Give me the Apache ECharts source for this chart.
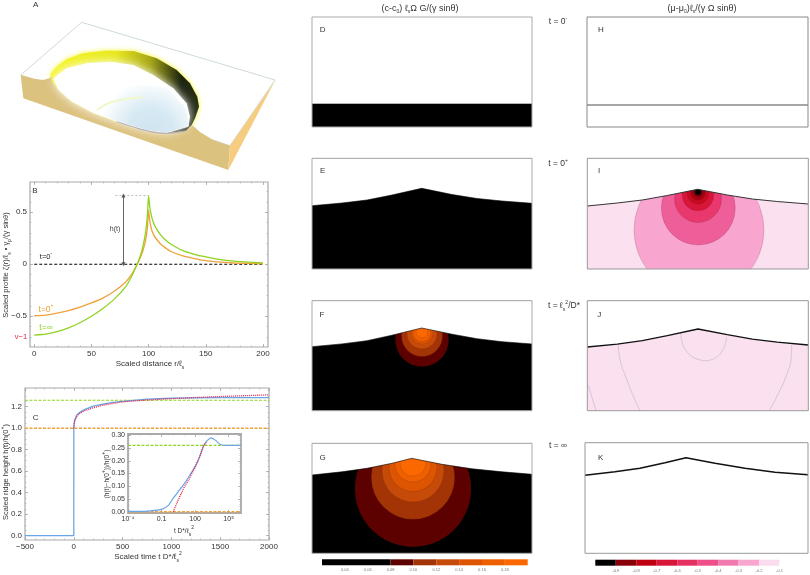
<!DOCTYPE html>
<html>
<head>
<meta charset="utf-8">
<style>html,body{margin:0;padding:0;background:#fff}#chart{width:810px;height:575px}</style>
<script src="https://cdn.jsdelivr.net/npm/echarts@6/dist/echarts.min.js"></script>
</head>
<body>
<div id="chart"></div>
<script>
// panel B: scaled profile
const distance = [0,10,20,30,40,50,60,70,80,85,90,93,95,97,98,99,100,101,102,103,105,107,110,115,120,130,140,150,160,175,200];
const profileEarly = [-.495,-.488,-.47,-.445,-.412,-.372,-.325,-.26,-.17,-.1,0,.07,.13,.21,.27,.36,.52,.42,.36,.32,.27,.24,.2,.155,.12,.08,.055,.035,.022,.012,.003];
const profileLate = [-.68,-.672,-.648,-.612,-.562,-.5,-.425,-.335,-.215,-.12,0,.09,.17,.28,.36,.48,.66,.55,.49,.44,.38,.34,.29,.23,.19,.13,.095,.07,.05,.03,.012];
const profileFlat = [[0,0],[200,0]];
const ridgeGuide = [[71,.66],[100,.66]];
const ridgeArrow = [[78,.66],[78,0]];

// panel C: ridge height
const time = [-500,-0.01,0,5,15,30,50,100,200,300,400,500,750,1000,1250,1500,2000];
const heightNum = [0,0,1,1.06,1.09,1.12,1.14,1.17,1.205,1.225,1.24,1.25,1.27,1.28,1.283,1.285,1.285];
const timeFit = [0,5,15,30,50,100,200,300,500,750,1000,1500,2000];
const heightFit = [1,1.05,1.08,1.11,1.13,1.16,1.19,1.215,1.245,1.262,1.275,1.295,1.31];
const levelEarly = 1.0;
const levelLate = 1.26;

// inset of C
const insetTime = [1e-4,1e-3,1e-2,.1,.4,1.1,3,9,30,100,250,560,1100,2570,6300,17800,70000,1300000];
const insetNum = [.001,.001,.003,.009,.025,.053,.078,.105,.14,.178,.215,.258,.277,.29,.281,.264,.26,.26];
const insetFitTime = [1.1,3,9,30,100,250,560,1100];
const insetFitNum = [0,.045,.09,.13,.175,.215,.258,.275];
const insetLate = .26;
const insetEarly = 0;

// surfaces of the contour panels: [x, height]
const surfaceE = [[0,63.3],[30,66],[55,69],[80,74],[109.7,80.7],[140,74.5],[165,70.5],[190,68],[220,65.7]];
const surfaceF = [[0,64],[30,66.8],[55,70],[80,75.5],[109.7,82.7],[140,76.5],[165,72],[190,69],[220,66.7]];
const surfaceG = [[0,78.3],[30,81.5],[55,85],[80,90],[99.7,95],[130,89],[160,84.5],[190,81.5],[220,79]];
const surfaceI = [[0,63],[30,66],[55,69],[80,73.5],[110.4,79.7],[140,74],[165,70],[190,67.5],[221,65]];
const surfaceJ = [[0,63.7],[30,66.5],[55,70],[80,75],[110.7,81.7],[140,76],[165,71.5],[190,68.5],[221,65.7]];
const surfaceK = [[0,78],[30,81.5],[55,85],[80,90.5],[101,95.6],[130,90],[160,85],[190,81],[223,78.6]];
const surfaceD = [[0,23],[220,23]];
const surfaceH = [[0,22],[221,22]];

// contour rings: [cx, cy, r]
const ringsF = [[110,70.7,26.5],[110,74.7,20.5],[110,76.7,15],[110,77.7,11],[110,78,9],[110,78.7,6]];
const ringsG = [[101,64.6,58],[101,75.7,41.7],[101,82.3,31],[101,85.8,24],[101,89.3,18],[101,90,13]];
const ringsI = [[111.7,39,65],[111,61,37],[110.7,70,23.5],[110.7,74,15.8],[110.7,76,11],[110.7,76.5,7.5],[110.7,77,4.5],[110.7,77.3,3]];
const contoursJ = [
    [[93.4,78],[95,68],[99,60],[105,54],[112,51],[118,50],[124,51],[130,54],[135,60],[138,67],[139.4,74]],
    [[31,65.7],[33,50],[38,35],[45,17],[52.7,0]],
    [[204.4,65.7],[204,54],[199,35],[191,17],[182,0]],
    [[1,25.7],[8.7,0]]
];

// colour bars
const barTicksLeft = [.04,.06,.08,.1,.12,.14,.16,.18];
const barEdgesLeft = [.02,.08,.1,.12,.14,.16,.18,.2];
const barTicksRight = [-.9,-.8,-.7,-.6,-.5,-.4,-.3,-.2,-.1];
const barEdgesRight = [-1,-.9,-.8,-.7,-.6,-.5,-.4,-.3,-.2,-.1,0];

const colorsHot = ['#000000','#5c0000','#a33406','#c64a08','#dd5500','#ee5f00','#fb6800'];
const colorsPink = ['#000000','#8a0008','#bf0012','#d9163a','#e6305f','#ee4f88','#f07ab0','#f8a6d0','#fbdcee','#ffffff'];
const ringColorsF = colorsHot.slice(1);
const ringColorsG = colorsHot.slice(1);
const ringColorsI = ['#f8a6d0','#ee5f9a','#e8386e','#d9163a','#c60a20','#a80010','#6a0008','#000000'];

// panel A outline, picture pixels
const boxTop = [[20.7,75],[81.7,22.3],[275,80],[230,145.7]];
const boxFront = [[20.7,75],[33,78.5],[43,80],[50,78],[52,74],[53,83],[67,98],[93,113],[133,128],[167,133.5],[187,130],[192,125],[200,132],[213,140],[230,145.7],[228.3,170],[23.3,98.3]];
const boxSide = [[230,145.7],[275,80.7],[228.3,170]];
const dropOuter = [[50.7,74],[56.7,66.7],[66.7,59.3],[83.3,53.3],[106.7,50.7],[133.3,51],[156.7,58.3],[176.7,70],[190,83.3],[197.3,96.7],[199,106.7],[195,118.3],[191.7,125],[186,130.7],[166.7,133.3],[146.7,130.7],[116.7,121.7],[93.3,113.3],[71.7,101.7],[58.3,90],[51.7,80]];
const dropInner = [[53.3,78.3],[66.7,68.3],[86.7,63.3],[110,61.7],[133.3,65],[153.3,75],[173.3,88.3],[186.7,103.3],[190,116.7],[188.3,126.7],[166.7,133],[146.7,130.5],[116.7,121.5],[93.3,113],[71.7,101.5],[58.3,89.8]];
const dropBlue = [[93.3,112.5],[110,88],[143,85],[167,88],[186,108],[189,126],[166.7,132.5],[146.7,130],[116.7,121]];
const dropStreak = [[96.7,110],[113,101.7],[143,97.3]];
const dropRim = [[116.7,121.7],[146.7,130.7],[166.7,133.3],[186,130.7]];

const FONT = 'Liberation Sans, Arial, sans-serif';
const richText = {
    s: {fontSize: 5, fontFamily: FONT, verticalAlign: 'bottom', lineHeight: 12},
    u: {fontSize: 5, fontFamily: FONT, verticalAlign: 'top', lineHeight: 12}
};

let grids = [], xAxes = [], yAxes = [], series = [], texts = [];

function txt(x, y, text, size, color, rotate){
    texts.push({
        type: 'text', x: x, y: y, z: 50, silent: true,
        rotation: rotate ? Math.PI / 2 : 0,
        style: {
            text: text, fill: color || '#333', fontSize: size || 8, fontFamily: FONT,
            align: 'center', verticalAlign: 'middle', rich: richText
        }
    });
}

function range(from, to, step){
    let out = [];
    for (let i = 0; from + i * step <= to + step / 1000; i++){
        out.push(+(from + i * step).toFixed(6));
    }
    return out;
}

// framed axis: labels and major ticks on one side, minor ticks and mirror on the rest
function plotAxes(list, gridIndex, sides, o){
    let first = list.length;
    [sides[0], sides[1]].forEach(function(side, i){
        list.push({
            gridIndex: gridIndex, type: 'value', position: side, min: o.min, max: o.max,
            axisLine: {show: false, onZero: false}, splitLine: {show: false},
            axisTick: {show: true, inside: true, length: 3, customValues: o.major, lineStyle: {color: '#999', width: .7}},
            axisLabel: {
                show: i === 0, customValues: o.major, margin: o.margin || 3, fontSize: o.size || 8,
                fontFamily: FONT, color: '#333', formatter: o.fmt, hideOverlap: false
            }
        });
        list.push({
            gridIndex: gridIndex, type: 'value', position: side, min: o.min, max: o.max,
            axisLine: {show: false, onZero: false}, splitLine: {show: false}, axisLabel: {show: false},
            axisTick: {show: true, inside: true, length: 1.5, customValues: o.minor, lineStyle: {color: '#aaa', width: .6}}
        });
    });
    return first;
}

function plotGrid(rect, borderWidth, xOpts, yOpts){
    let gi = grids.length;
    grids.push({
        show: true, left: rect[0], top: rect[1], width: rect[2], height: rect[3],
        containLabel: false, backgroundColor: '#fff', borderColor: '#aaa', borderWidth: borderWidth
    });
    return {x: plotAxes(xAxes, gi, ['bottom','top'], xOpts), y: plotAxes(yAxes, gi, ['left','right'], yOpts)};
}

function line(ax, data, color, width, dash, extra){
    series.push(Object.assign({
        type: 'line', xAxisIndex: ax.x, yAxisIndex: ax.y, data: data, showSymbol: false, symbol: 'none',
        silent: true, clip: true,
        lineStyle: {color: color, width: width, type: dash || 'solid'}
    }, extra || {}));
}

function zip(a, b){
    return a.map((v, i) => [v, b[i]]);
}

// contour panel: hidden axes in picture pixels, frame on top
function contourPanel(rect, background, surface, surfaceColor, surfaceWidth, frameColor){
    let gi = grids.length;
    grids.push({show: true, left: rect[0], top: rect[1], width: rect[2], height: rect[3], containLabel: false, backgroundColor: background, borderWidth: 0});
    let ax = {x: xAxes.length, y: yAxes.length};
    xAxes.push({gridIndex: gi, type: 'value', min: 0, max: rect[2], show: false});
    yAxes.push({gridIndex: gi, type: 'value', min: 0, max: rect[3], show: false});
    return {
        ax: ax, surface: surface, surfaceColor: surfaceColor, surfaceWidth: surfaceWidth,
        frameColor: frameColor, w: rect[2], h: rect[3]
    };
}

function addRings(p, rings, colors){
    series.push({
        type: 'custom', xAxisIndex: p.ax.x, yAxisIndex: p.ax.y, coordinateSystem: 'cartesian2d', clip: true, silent: true, z: 3,
        encode: {x: 0, y: 1},
        data: rings,
        renderItem: function(params, api){
            let c = api.coord([api.value(0), api.value(1)]);
            let r = api.size([api.value(2), 0])[0];
            return {
                type: 'circle', shape: {cx: c[0], cy: c[1], r: r},
                style: {fill: colors[params.dataIndex], stroke: 'rgba(90,30,30,.35)', lineWidth: .5}
            };
        }
    });
}

function closePanel(p){
    series.push({
        type: 'line', xAxisIndex: p.ax.x, yAxisIndex: p.ax.y, data: p.surface, symbol: 'none', silent: true, z: 4,
        lineStyle: {color: p.surfaceColor, width: p.surfaceWidth},
        areaStyle: {color: '#fff', origin: 'end', opacity: 1}
    });
    series.push({
        type: 'custom', xAxisIndex: p.ax.x, yAxisIndex: p.ax.y, coordinateSystem: 'cartesian2d', silent: true, z: 5,
        encode: {x: 0, y: 1},
        data: [[0, 0]],
        renderItem: function(params, api){
            let a = api.coord([0, p.h]), b = api.coord([p.w, 0]);
            return {
                type: 'rect', shape: {x: a[0], y: a[1], width: b[0] - a[0], height: b[1] - a[1]},
                style: {fill: 'none', stroke: p.frameColor, lineWidth: 1}
            };
        }
    });
}

function colorBar(rect, edges, ticks, colors){
    let gi = grids.length;
    grids.push({show: false, left: rect[0], top: rect[1], width: rect[2], height: rect[3], containLabel: false});
    let xi = xAxes.length, yi = yAxes.length;
    xAxes.push({
        gridIndex: gi, type: 'value', min: edges[0], max: edges[edges.length - 1],
        axisLine: {show: false, onZero: false}, axisTick: {show: false}, splitLine: {show: false},
        axisLabel: {
            customValues: ticks, fontSize: 4, margin: 3, color: '#777', fontFamily: FONT,
            formatter: v => v.toFixed(2).replace(/0$/, ticks[0] < 0 ? '' : '0')
        }
    });
    yAxes.push({gridIndex: gi, type: 'value', min: 0, max: 1, show: false});
    series.push({
        type: 'custom', xAxisIndex: xi, yAxisIndex: yi, coordinateSystem: 'cartesian2d', silent: true,
        encode: {x: [0, 1]},
        data: edges.slice(0, -1).map((v, i) => [v, edges[i + 1]]),
        renderItem: function(params, api){
            let a = api.coord([api.value(0), 1]), b = api.coord([api.value(1), 0]);
            return {type: 'rect', shape: {x: a[0], y: a[1], width: b[0] - a[0], height: b[1] - a[1]}, style: {fill: colors[params.dataIndex]}};
        }
    });
}

function drawIllustration(){
    let gi = grids.length;
    grids.push({show: false, left: 0, top: 0, width: 810, height: 575, containLabel: false});
    let xi = xAxes.length, yi = yAxes.length;
    xAxes.push({gridIndex: gi, type: 'value', min: 0, max: 810, show: false});
    yAxes.push({gridIndex: gi, type: 'value', min: 0, max: 575, inverse: true, show: false});
    series.push({
        type: 'custom', xAxisIndex: xi, yAxisIndex: yi, coordinateSystem: 'cartesian2d', silent: true, z: 1,
        encode: {x: 0, y: 1},
        data: [[0, 0]],
        renderItem: function(params, api){
            let pts = list => list.map(p => api.coord(p));
            let poly = (list, style) => ({type: 'polygon', shape: {points: pts(list)}, style: style});
            let band = new echarts.graphic.LinearGradient(0, 0, 1, 0, [
                {offset: 0, color: '#f6f62a'},
                {offset: .44, color: '#e8e81e'},
                {offset: .67, color: '#a8a818'},
                {offset: .88, color: '#1c2410'},
                {offset: 1, color: '#283018'}
            ]);
            let blue = new echarts.graphic.RadialGradient(.6, 1, 1.1, [
                {offset: 0, color: '#cfe4f0'},
                {offset: .45, color: '#d6e9f3'},
                {offset: 1, color: '#ffffff'}
            ]);
            return {
                type: 'group',
                children: [
                    poly(boxTop, {fill: '#fff', stroke: '#c0d0d2', lineWidth: .8}),
                    poly(dropOuter, {fill: '#f8f82a', shadowColor: '#f4f428', shadowBlur: 5}),
                    poly(boxFront, {fill: '#dcc27f'}),
                    poly(boxSide, {fill: '#f6cd80'}),
                    poly(dropOuter, {fill: band}),
                    poly(dropInner, {fill: '#fff', shadowColor: '#fff', shadowBlur: 10}),
                    poly(dropBlue, {fill: blue}),
                    {type: 'polyline', shape: {points: pts(dropStreak), smooth: .4}, style: {stroke: '#f0f8cc', lineWidth: 2, fill: 'none'}},
                    {type: 'polyline', shape: {points: pts(dropRim), smooth: .4}, style: {stroke: '#aca6c0', lineWidth: 1, fill: 'none'}}
                ]
            };
        }
    });
}

// ---- panel B
let smoothCurve = {smooth: .2};
let axB = plotGrid([30, 182, 238, 165], 1.2, {
    min: -3.7, max: 204.4, major: range(0, 200, 50), minor: range(0, 200, 10), fmt: v => String(v)
}, {
    min: -.795, max: .79, major: [-.5, 0, .5], minor: range(-.7, .7, .1),
    fmt: v => String(v).replace('-', '\u2212')
});
line(axB, profileFlat, '#000', 1.2, [3, 2]);
line(axB, zip(distance, profileEarly), '#f0a23a', 1.3, null, smoothCurve);
line(axB, zip(distance, profileLate), '#8ed321', 1.3, null, smoothCurve);
line(axB, ridgeGuide, '#aaa', .8, [2, 2]);
series.push({
    type: 'line', xAxisIndex: axB.x, yAxisIndex: axB.y, data: [], silent: true,
    markLine: {
        silent: true, animation: false, symbol: ['triangle', 'triangle'], symbolSize: 4, label: {show: false},
        lineStyle: {color: '#555', width: .9, type: 'solid'},
        data: [[{coord: ridgeArrow[0]}, {coord: ridgeArrow[1]}]]
    }
});

// ---- panel C
let axC = plotGrid([25, 388, 244, 152], 1.2, {
    min: -500, max: 2000, major: range(-500, 2000, 500), minor: range(-500, 2000, 100),
    fmt: v => String(v).replace('-', '\u2212')
}, {
    min: -.04, max: 1.374, major: range(0, 1.2, .2), minor: range(0, 1.35, .05), fmt: v => v.toFixed(1)
});
line(axC, [[-500, levelEarly], [2000, levelEarly]], '#f0a23a', 1.6, [3, 1.5]);
line(axC, [[-500, levelLate], [2000, levelLate]], '#8ed321', 1.2, [3, 1.5]);
line(axC, zip(time, heightNum), '#6aa5e8', 1.3);
line(axC, zip(timeFit, heightFit), '#e0204a', 1.3, [1, 1]);

// ---- inset of C, x is log10 of time
let axIn = plotGrid([128, 434, 113, 79], 1.8, {
    min: -4, max: 6.1, major: [-4, -1, 2, 5], minor: range(-4, 6, 1), size: 7,
    fmt: v => ({'-4': '10\u207B\u2074', '-1': '0.1', '2': '100', '5': '10\u2075'}[String(v)])
}, {
    min: -.005, max: .305, major: range(0, .3, .05), minor: range(0, .3, .01), size: 7, fmt: v => v.toFixed(2)
});
line(axIn, [[-4, insetEarly], [6.1, insetEarly]], '#f0a23a', 1.4, [3, 1.5]);
line(axIn, [[-4, insetLate], [6.1, insetLate]], '#8ed321', 1.2, [3, 1.5]);
line(axIn, insetTime.map((t, i) => [Math.log10(t), insetNum[i]]), '#6aa5e8', 1.2, null, smoothCurve);
line(axIn, insetFitTime.map((t, i) => [Math.log10(t), insetFitNum[i]]), '#e0204a', 1.3, [1, 1]);

// ---- contour panels
let pD = contourPanel([312, 17, 220, 110], '#000', surfaceD, '#000', .6, '#aaa');
closePanel(pD);
let pE = contourPanel([312, 158.3, 220, 110.7], '#000', surfaceE, '#000', .6, '#aaa');
closePanel(pE);
let pF = contourPanel([312, 300.7, 220, 110], '#000', surfaceF, '#000', .6, '#aaa');
addRings(pF, ringsF, ringColorsF);
closePanel(pF);
let pG = contourPanel([312, 443.3, 220, 110], '#000', surfaceG, '#000', .6, '#aaa');
addRings(pG, ringsG, ringColorsG);
closePanel(pG);
let pH = contourPanel([587, 17, 221, 110], '#fff', surfaceH, '#888', 1.4, '#888');
closePanel(pH);
let pI = contourPanel([587.3, 158.3, 221, 110.7], '#fbe0f0', surfaceI, '#333', 1, '#999');
addRings(pI, ringsI, ringColorsI);
closePanel(pI);
let pJ = contourPanel([587.3, 300.7, 221, 110], '#fbe0f0', surfaceJ, '#111', 1.3, '#999');
contoursJ.forEach(function(c){
    series.push({
        type: 'line', xAxisIndex: pJ.ax.x, yAxisIndex: pJ.ax.y, data: c, symbol: 'none', smooth: .5, silent: true, z: 3,
        lineStyle: {color: '#cbbfd0', width: .8}
    });
});
closePanel(pJ);
let pK = contourPanel([585, 442.7, 223, 110.6], '#fff', surfaceK, '#111', 1.4, '#999');
closePanel(pK);

colorBar([322, 559.3, 205.7, 6], barEdgesLeft, barTicksLeft, colorsHot);
colorBar([595.3, 559.7, 204.7, 6], barEdgesRight, barTicksRight, colorsPink);

drawIllustration();

// ---- text
txt(420, 8.5, '(c-c{s|0}) \u2113{s|s}\u03A9 G/(\u03B3 sin\u03B8)', 9);
txt(702, 8.5, '(\u03BC-\u03BC{s|0})\u2113{s|s}/(\u03B3 \u03A9 sin\u03B8)', 9);
txt(558, 22, 't = 0{u|-}', 8.5);
txt(558, 163.7, 't = 0{u|+}', 8.5);
txt(564, 306, 't = \u2113{s|s}{u|2}/D*', 8.5);
txt(558, 446, 't = \u221E', 8.5);

[['A',35.7,5],['B',35,190.7],['C',35.7,418],['D',322.7,30],['E',322.7,170.7],['F',322,315],['G',322.7,457.3],
 ['H',601,30],['I',599,170.7],['J',599.3,314.7],['K',600.7,457.3]].forEach(l => txt(l[1], l[2], l[0], 8));

txt(6, 265, 'Scaled profile \u03B6(r)/\u2113{s|s} \u2022 \u03B3{s|p}/(\u03B3 sin\u03B8)', 7.5, '#333', true);
txt(150, 363.7, 'Scaled distance r/\u2113{s|s}', 8);
txt(46, 257.3, 't=0{u|-}', 7.5, '#222');
txt(46, 309.3, 't=0{u|+}', 8.5, '#f0a23a');
txt(46, 328, 't=\u221E', 8.5, '#8ed321');
txt(21, 336.7, '\u03BD\u22121', 7.5, '#e0203a');
txt(115, 229, 'h(t)', 7, '#444');

txt(6, 472, 'Scaled ridge height h(t)/h(0{u|+})', 7.5, '#333', true);
txt(148, 557, 'Scaled time t D*/\u2113{s|s}{u|2}', 8);
txt(107, 474, '(h(t)\u2212h(0{u|+}))/h(0{u|+})', 6.5, '#333', true);
txt(184, 531, 't D*/\u2113{s|s}{u|2}', 6.5);

let chart = echarts.init(document.getElementById('chart'), null, {renderer: 'canvas'});
chart.setOption({
    animation: false,
    backgroundColor: '#fff',
    textStyle: {fontFamily: FONT},
    grid: grids,
    xAxis: xAxes,
    yAxis: yAxes,
    series: series,
    graphic: texts
});
</script>
</body>
</html>
